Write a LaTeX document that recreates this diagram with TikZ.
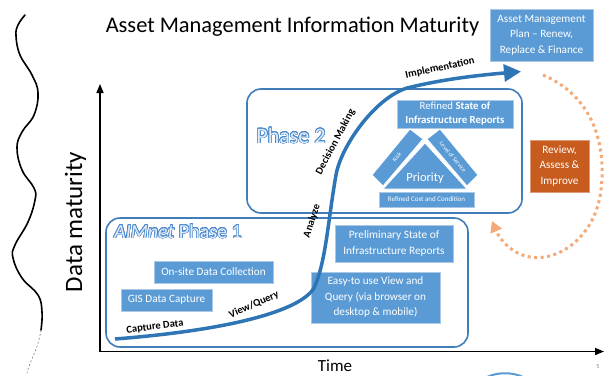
\documentclass[tikz,border=0pt]{standalone}
\usepackage{fontspec}
\setmainfont{Carlito}
\usetikzlibrary{arrows.meta}
\IfFileExists{contour.sty}{\usepackage{contour}\contourlength{0.6pt}\contournumber{24}}{\providecommand{\contour}[2]{#2}}
\definecolor{boxblue}{RGB}{91,155,213}
\definecolor{boxedge}{RGB}{170,200,230}
\definecolor{lineblue}{RGB}{46,117,182}
\definecolor{frameblue}{RGB}{65,125,185}
\definecolor{orangebox}{RGB}{200,92,30}
\definecolor{orangedot}{RGB}{244,170,120}
\definecolor{outl}{RGB}{80,140,205}
\definecolor{fillp}{RGB}{225,236,248}
\tikzset{
  bluebox/.style={rectangle, fill=boxblue, draw=boxedge, line width=0.6pt, text=white, align=center, inner sep=0pt, font=\fontsize{11.2}{15.5}\selectfont},
  orangenode/.style={bluebox, fill=orangebox, draw=orangebox!60!white},
  phasebox/.style={rectangle, draw=frameblue, line width=1.6pt, rounded corners=14pt, inner sep=0pt},
  curvelabel/.style={font=\fontsize{10.5}{12}\selectfont\bfseries, text=black, inner sep=0pt},
  phaselabel/.style={inner sep=0pt, anchor=base},
  tripart/.style={fill=boxblue, draw=white, line width=0.8pt},
  tinytext/.style={font=\fontsize{6}{7}\selectfont, text=white, inner sep=0pt},
}
\begin{document}
\begin{tikzpicture}[x=1pt,y=-1pt]
\useasboundingbox (0,0) rectangle (605,375);
\fill[white] (0,0) rectangle (605,375);

% wavy line at left
\draw[line width=1.6pt, line cap=round] plot[smooth, tension=0.7] coordinates {(25,15) (18,25) (16,36) (20,55) (32,75) (38,93) (34,115) (22,132) (17,148) (22,170) (34,188) (35,200) (28,222) (15,245) (13,258) (22,278) (38,295) (42,312) (41,330)};
\draw[line width=0.6pt, gray, dash pattern=on 2pt off 2pt] (41,330) .. controls (38,350) and (30,360) .. (27,373);

% axes
\coordinate (origin) at (100,351.5);
\coordinate (ytip) at (100,84);
\coordinate (xtip) at (604,351.5);
\draw[line width=1.6pt, {Triangle[length=9pt,width=7pt]}-{Triangle[length=9pt,width=7pt]}] (ytip) -- (origin) -- (xtip);

% phase frames
\node[phasebox, minimum width=362pt, minimum height=129pt] (phase1) at (287,282.5) {};
\node[phasebox, minimum width=275pt, minimum height=124pt] (phase2) at (384.5,151) {};
\node[phaselabel, font=\fontsize{22}{24}\selectfont] (p2label) at (291,143) {\contour{outl}{\textcolor{fillp}{Phase 2}}};
\node[phaselabel, font=\fontsize{20}{22}\selectfont] (p1label) at (178,238) {\contour{outl}{\textcolor{fillp}{\textit{AIMnet} Phase 1}}};

% title and axis labels
\node[anchor=base, inner sep=0pt, font=\fontsize{22.4}{26}\selectfont] (title) at (292.5,32) {Asset Management Information Maturity};
\node[anchor=base, rotate=90, inner sep=0pt, font=\fontsize{25}{28}\selectfont] (ylabel) at (82,222) {Data maturity};
\node[anchor=base, inner sep=0pt, font=\fontsize{17}{20}\selectfont] (xlabel) at (335,371.5) {Time};
\node[anchor=base, inner sep=0pt, font=\fontsize{6}{7}\selectfont, text=gray] (pagenum) at (598,368) {5};

% blue boxes
\node[bluebox, minimum width=103pt, minimum height=52pt] (amp) at (541.5,35) {Asset Management\\Plan – Renew,\\Replace \& Finance};
\node[bluebox, minimum width=116pt, minimum height=28pt, font=\fontsize{10.8}{14}\selectfont] (refstate) at (455,114) {Refined \textbf{State of}\\\textbf{Infrastructure Reports}};
\node[bluebox, minimum width=95pt, minimum height=15pt, font=\fontsize{7}{8}\selectfont] (refcost) at (426.5,199.5) {Refined Cost and Condition};
\node[bluebox, minimum width=118pt, minimum height=37pt, font=\fontsize{11.3}{16}\selectfont] (prelim) at (394,243.5) {Preliminary State of\\Infrastructure Reports};
\node[bluebox, minimum width=129pt, minimum height=51pt] (easy) at (375.5,297.5) {Easy-to use View and\\Query (via browser on\\desktop \& mobile)};
\node[bluebox, minimum width=119pt, minimum height=22pt] (onsite) at (213.5,272) {On-site Data Collection};
\node[bluebox, minimum width=91pt, minimum height=22pt] (gis) at (166.5,300) {GIS Data Capture};
\node[orangenode, minimum width=59pt, minimum height=52pt] (review) at (559.5,166) {Review,\\Assess \&\\Improve};

% priority triangle
\filldraw[tripart] (372,175) -- (410,129) -- (423,139) -- (383,186) -- cycle;
\filldraw[tripart] (478,175) -- (440,129) -- (427,139) -- (467,186) -- cycle;
\filldraw[tripart] (425,143) -- (467,189) -- (383,189) -- cycle;
\node[anchor=base, inner sep=0pt, text=white, font=\fontsize{12.5}{14}\selectfont] (priority) at (425,181) {Priority};
\node[tinytext, rotate=50] (risk) at (397,157) {Risk};
\node[tinytext, rotate=-50] (los) at (453,157) {Level of Service};

% maturity curve
\coordinate (cstart) at (115,339);
\coordinate (cend) at (521,71.5);
\draw[lineblue, line width=3.5pt, -{Triangle[length=17pt,width=17pt]}] (cstart) .. controls (230,330) and (300,311) .. (314,288) .. controls (326,262) and (328,220) .. (336,175) .. controls (341,146) and (375,98) .. (407,88) .. controls (440,80) and (470,76) .. (cend);
\node[curvelabel, rotate=7] (capture) at (155,327) {Capture Data};
\node[curvelabel, rotate=24] (viewq) at (254,305) {View/Query};
\node[curvelabel, rotate=72] (analyze) at (312,221) {Analyze};
\node[curvelabel, rotate=62] (decision) at (335.5,142) {Decision Making};
\node[curvelabel, rotate=12] (impl) at (440,68) {Implementation};

% review loop
\coordinate (oastart) at (543,75);
\coordinate (oaend) at (492,221);
\draw[orangedot, line width=3pt, dash pattern=on 3pt off 3.5pt, -{Triangle[length=11pt,width=12pt]}] (oastart) .. controls (590,95) and (607,140) .. (601,190) .. controls (596,235) and (560,262) .. (530,257) .. controls (512,254) and (500,240) .. (oaend);

% cut-off shape at bottom
\draw[boxblue, line width=2pt] (487,377) .. controls (498,372) and (512,372) .. (523,377);
\end{tikzpicture}
\end{document}
